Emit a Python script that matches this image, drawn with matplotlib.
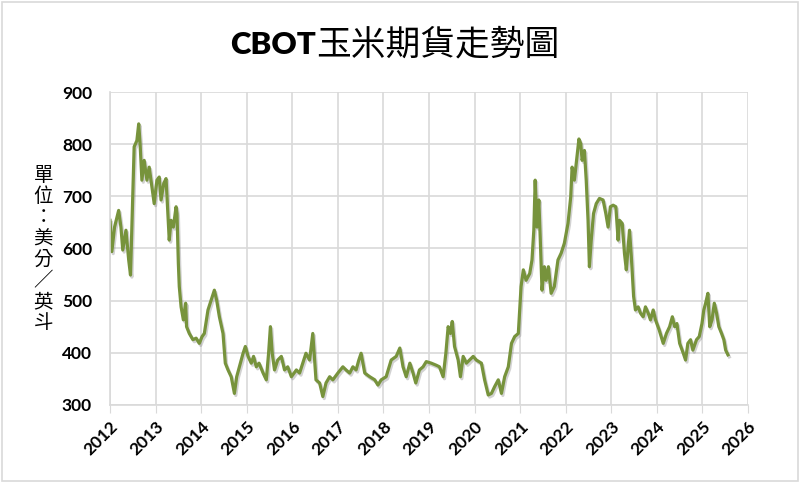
import matplotlib
matplotlib.use("Agg")
import matplotlib.pyplot as plt
import matplotlib.patheffects as pe
from matplotlib.patches import Rectangle

# CBOT corn futures, cents per bushel
years = [
    2012.00, 2012.04, 2012.10, 2012.19, 2012.24, 2012.28, 2012.35, 2012.41, 2012.45, 2012.50,
    2012.53, 2012.59, 2012.63, 2012.66, 2012.70, 2012.75, 2012.81, 2012.86, 2012.92, 2012.97,
    2013.03, 2013.08, 2013.12, 2013.18, 2013.23, 2013.27, 2013.30, 2013.34, 2013.39, 2013.45,
    2013.47, 2013.50, 2013.52, 2013.56, 2013.61, 2013.66, 2013.68, 2013.74, 2013.82, 2013.89,
    2013.96, 2014.02, 2014.07, 2014.15, 2014.22, 2014.29, 2014.34, 2014.40, 2014.48, 2014.53,
    2014.59, 2014.66, 2014.73, 2014.78, 2014.84, 2014.92, 2014.97, 2015.03, 2015.10, 2015.15,
    2015.21, 2015.27, 2015.36, 2015.43, 2015.48, 2015.52, 2015.56, 2015.61, 2015.68, 2015.76,
    2015.83, 2015.90, 2015.98, 2016.09, 2016.16, 2016.30, 2016.38, 2016.45, 2016.52, 2016.60,
    2016.67, 2016.74, 2016.82, 2016.89, 2017.00, 2017.11, 2017.18, 2017.26, 2017.33, 2017.40,
    2017.46, 2017.51, 2017.59, 2017.70, 2017.81, 2017.88, 2017.95, 2018.06, 2018.17, 2018.28,
    2018.36, 2018.43, 2018.50, 2018.58, 2018.65, 2018.71, 2018.79, 2018.87, 2018.94, 2019.05,
    2019.16, 2019.23, 2019.31, 2019.37, 2019.42, 2019.47, 2019.51, 2019.56, 2019.64, 2019.69,
    2019.75, 2019.82, 2019.89, 2019.97, 2020.04, 2020.15, 2020.22, 2020.30, 2020.37, 2020.44,
    2020.52, 2020.59, 2020.66, 2020.74, 2020.81, 2020.88, 2020.96, 2021.02, 2021.07, 2021.13,
    2021.21, 2021.26, 2021.30, 2021.33, 2021.37, 2021.41, 2021.44, 2021.48, 2021.53, 2021.57,
    2021.62, 2021.68, 2021.75, 2021.83, 2021.90, 2021.97, 2022.05, 2022.11, 2022.14, 2022.19,
    2022.23, 2022.29, 2022.33, 2022.36, 2022.41, 2022.45, 2022.49, 2022.52, 2022.56, 2022.61,
    2022.67, 2022.74, 2022.82, 2022.88, 2022.93, 2022.98, 2023.04, 2023.10, 2023.15, 2023.18,
    2023.24, 2023.29, 2023.33, 2023.37, 2023.40, 2023.44, 2023.49, 2023.53, 2023.59, 2023.64,
    2023.70, 2023.75, 2023.81, 2023.86, 2023.92, 2023.97, 2024.05, 2024.14, 2024.21, 2024.28,
    2024.34, 2024.39, 2024.44, 2024.50, 2024.58, 2024.63, 2024.68, 2024.74, 2024.79, 2024.87,
    2024.93, 2024.99, 2025.03, 2025.07, 2025.12, 2025.16, 2025.21, 2025.26, 2025.31, 2025.36,
    2025.42, 2025.47, 2025.51, 2025.56,
]
prices = [
    654, 594, 641, 673, 641, 597, 635, 578, 549, 700,
    795, 807, 839, 801, 731, 769, 731, 756, 718, 686,
    731, 737, 693, 725, 734, 667, 616, 654, 641, 680,
    667, 571, 527, 488, 463, 495, 450, 437, 425, 428,
    418, 431, 437, 482, 501, 520, 501, 469, 437, 380,
    367, 354, 322, 354, 373, 399, 412, 393, 380, 393,
    373, 380, 361, 348, 399, 450, 399, 367, 386, 393,
    367, 373, 354, 367, 361, 399, 386, 437, 348, 342,
    316, 342, 354, 348, 361, 373, 367, 361, 373, 367,
    386, 399, 361, 354, 348, 338, 348, 354, 386, 393,
    409, 373, 354, 380, 361, 342, 367, 373, 383, 380,
    376, 373, 354, 399, 450, 437, 460, 412, 386, 354,
    393, 380, 386, 393, 386, 380, 348, 319, 322, 335,
    348, 322, 354, 373, 418, 431, 437, 527, 559, 539,
    552, 578, 635, 731, 641, 693, 622, 520, 565, 539,
    565, 514, 527, 578, 591, 610, 648, 699, 756, 731,
    763, 810, 801, 769, 788, 731, 654, 565, 616, 667,
    686, 696, 693, 667, 641, 680, 683, 680, 616, 654,
    648, 590, 559, 603, 635, 584, 508, 482, 488, 476,
    469, 488, 476, 463, 482, 463, 444, 418, 437, 450,
    469, 450, 456, 418, 399, 386, 418, 425, 405, 425,
    431, 456, 482, 495, 514, 450, 463, 495, 476, 450,
    437, 425, 405, 396,
]
year_ticks = list(range(2012, 2027))
price_ticks = [300, 400, 500, 600, 700, 800, 900]

title_en = "CBOT"
title_zh = "玉米期貨走勢圖"
unit_label = "單位：美分／英斗"

line_color = "#77933c"
grid_color = "#d9d9d9"
num_font = ["Lato", "DejaVu Sans"]
zh_font = ["Noto Sans CJK TC", "DejaVu Sans"]

fig = plt.figure(figsize=(8, 4.82), dpi=100)
fig.patches.append(Rectangle((0.002, 0.002), 0.996, 0.994, transform=fig.transFigure,
                             fill=False, edgecolor=grid_color, linewidth=1.2))
ax = fig.add_axes([0.1375, 0.16, 0.7975, 0.649])

ax.plot(years, prices, color=line_color, linewidth=2.3, solid_joinstyle="round",
        path_effects=[pe.SimpleLineShadow(offset=(1, -1.5), shadow_color="gray", alpha=0.35),
                      pe.Normal()])

ax.set_xlim(2012, 2026)
ax.set_ylim(300, 900)
ax.set_xticks(year_ticks)
ax.set_yticks(price_ticks)
ax.set_xticklabels([str(y) for y in year_ticks], rotation=45, ha="right",
                   rotation_mode="anchor", fontsize=12.5, fontweight="bold", family=num_font)
ax.set_yticklabels([str(p) for p in price_ticks], fontsize=12.5, fontweight="bold", family=num_font)
ax.grid(True, color=grid_color, linewidth=1.2)
ax.set_axisbelow(True)
for side in ["top", "right"]:
    ax.spines[side].set_visible(False)
for side in ["left", "bottom"]:
    ax.spines[side].set_color(grid_color)
    ax.spines[side].set_linewidth(1.2)
ax.tick_params(axis="y", length=0, pad=13)
ax.tick_params(axis="x", length=6, color=grid_color, pad=4)

# title: bold latin part + regular chinese part
fig.text(0.395, 0.887, title_en, ha="right", va="baseline", fontsize=22.5,
         fontweight="heavy", family=num_font)
fig.text(0.395, 0.887, title_zh, ha="left", va="baseline", fontsize=25, family=zh_font)

# vertical unit label, one character per line
fig.text(0.054, 0.483, "\n".join(unit_label), ha="center", va="center",
         fontsize=14, linespacing=1.0, family=zh_font)

fig.savefig("out.png", dpi=100)
